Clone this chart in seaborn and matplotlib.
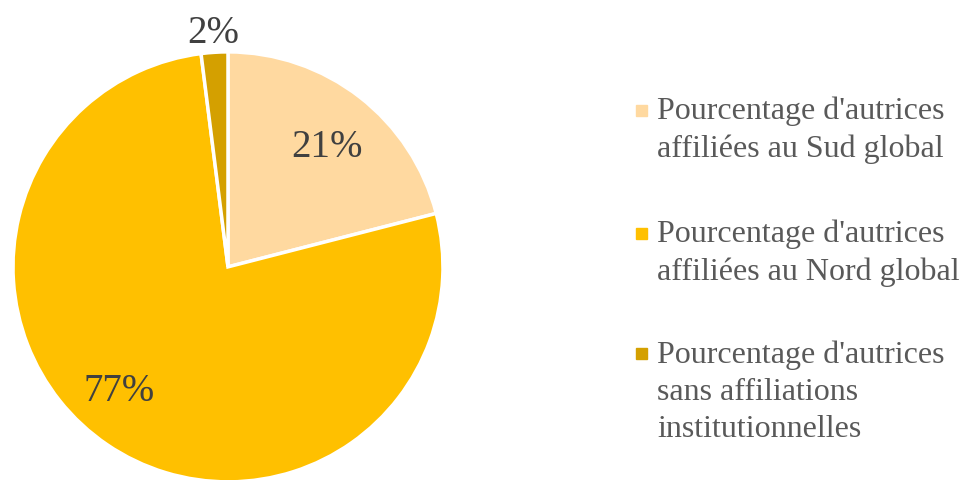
import matplotlib.pyplot as plt
import seaborn as sns
import numpy as np

# Data
categories = [
    "Pourcentage d'autrices\naffiliées au Sud global",
    "Pourcentage d'autrices\naffiliées au Nord global",
    "Pourcentage d'autrices\nsans affiliations\ninstitutionnelles",
]
shares = [21, 77, 2]
colors = ["#FFD9A0", "#FFC000", "#D4A000"]

sns.set_theme(style="white")
plt.rcParams['font.family'] = ['Liberation Serif', 'DejaVu Serif']

fig = plt.figure(figsize=(9.64, 4.8), dpi=100)
ax = fig.add_axes([0.0135, -0.004, 0.446, 0.896])

wedges, texts, autotexts = ax.pie(
    shares, colors=colors, startangle=90, counterclock=False,
    autopct='%1.0f%%', pctdistance=0.76,
    wedgeprops=dict(edgecolor='white', linewidth=2.5),
    textprops=dict(fontsize=28, color='#404040'),
)
ax.set_xlim(-1, 1)
ax.set_ylim(-1, 1)
ax.set_aspect('equal')

# label placement: (angle offset in degrees, radius)
label_pos = [(-2, 0.72), (-7, 0.77), (0, 1.09)]
for w, t, (dang, r) in zip(wedges, autotexts, label_pos):
    mid = np.deg2rad((w.theta1 + w.theta2) / 2 + dang)
    t.set_position((r * np.cos(mid), r * np.sin(mid)))

# legend drawn by hand to keep marker on the first line
cap_tops = [100, 223, 343]
for lab, col, top in zip(categories, colors, cap_tops):
    fig.patches.append(plt.Rectangle((636 / 964, 1 - (top + 16) / 480), 11 / 964, 11 / 480,
                                     transform=fig.transFigure, color=col, figure=fig))
    fig.text(657 / 964, 1 - (top - 3) / 480, lab, fontsize=23, color='#595959',
             va='top', ha='left', linespacing=1.37)

plt.savefig('out.png', dpi=100)
